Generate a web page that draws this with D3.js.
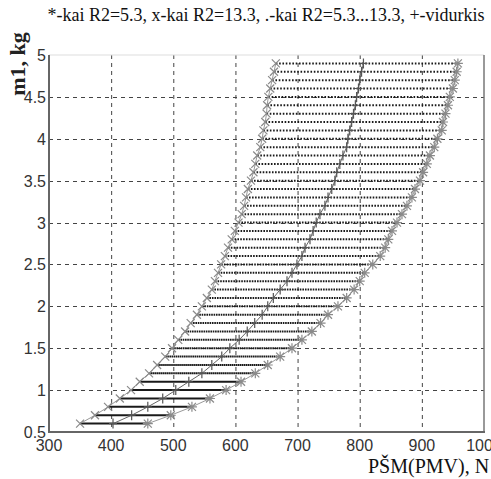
<!DOCTYPE html>
<html><head><meta charset="utf-8">
<script src="https://cdn.jsdelivr.net/npm/d3@7"></script>
<style>body{margin:0;background:#fff}svg{display:block}</style>
</head><body>
<svg id="c" width="491" height="479"></svg>
<script>
const m1 = [0.6,0.7,0.8,0.9,1.0,1.1,1.2,1.3,1.4,1.5,1.6,1.7,1.8,1.9,2.0,2.1,2.2,2.3,2.4,2.5,2.6,2.7,2.8,2.9,3.0,3.1,3.2,3.3,3.4,3.5,3.6,3.7,3.8,3.9,4.0,4.1,4.2,4.3,4.4,4.5,4.6,4.7,4.8,4.9];
const fR13 = [350,374,395,414,432,446,461,474,487,498,508,519,528,538,546,554,562,567,572,577,583,588,594,599,605,610,614,617,620,625,629,632,635,640,643,645,648,650,651,653,656,659,662,665];
const fR5 = [459,496,530,559,585,609,632,652,672,691,707,723,737,749,765,779,791,800,808,821,833,841,846,852,860,868,876,884,889,897,902,908,913,920,925,932,934,938,942,945,950,953,956,958];
const fMean = [403,433,459,483,504,525,546,562,578,591,606,619,631,643,652,661,672,683,691,699,707,712,720,725,730,736,744,749,755,760,763,768,773,779,781,784,787,790,793,795,798,800,803,806];
const xTicks = [300,400,500,600,700,800,900,1000];
const yTicks = [0.5,1,1.5,2,2.5,3,3.5,4,4.5,5];
const xTickLabels = ["300","400","500","600","700","800","900","1000"];
const yTickLabels = ["0.5","1","1.5","2","2.5","3","3.5","4","4.5","5"];
const title = "*-kai R2=5.3, x-kai R2=13.3, .-kai R2=5.3...13.3, +-vidurkis";
const xLabel = "PŠM(PMV), N";
const yLabel = "m1, kg";

const svg = d3.select("#c");
const L=49, R=484, T=55, B=432;
const x = d3.scaleLinear().domain([300,1000]).range([L,R]);
const y = d3.scaleLinear().domain([0.5,5]).range([B,T]);

// grid
const grid = svg.append("g").attr("stroke","#444").attr("stroke-width",1).attr("stroke-dasharray","4,4");
grid.selectAll("line.v").data(xTicks.slice(1,-1)).join("line")
  .attr("x1",d=>x(d)+0.5).attr("x2",d=>x(d)+0.5).attr("y1",T).attr("y2",B);
grid.selectAll("line.h").data(yTicks.slice(1,-1)).join("line")
  .attr("y1",d=>Math.round(y(d))+0.5).attr("y2",d=>Math.round(y(d))+0.5).attr("x1",L).attr("x2",R);

const data = m1.map((m,i)=>({m, a:fR13[i], b:fR5[i], c:fMean[i]}));

// dotted rows
svg.append("g").selectAll("line").data(data).join("line")
  .attr("x1",d=>x(d.a)).attr("x2",d=>x(d.b))
  .attr("y1",d=>y(d.m)).attr("y2",d=>y(d.m))
  .attr("stroke","#1a1a1a").attr("stroke-width",2)
  .attr("stroke-dasharray",d=>{const w=x(d.b)-x(d.a); const g=Math.max(0,w/55-1.6); return g<0.3?null:`1.6,${g}`;});

// connecting curves
const lineA = d3.line().x(d=>x(d.a)).y(d=>y(d.m));
const lineB = d3.line().x(d=>x(d.b)).y(d=>y(d.m));
const lineC = d3.line().x(d=>x(d.c)).y(d=>y(d.m));
svg.append("path").attr("d",lineA(data)).attr("fill","none").attr("stroke","#999").attr("stroke-width",1);
svg.append("path").attr("d",lineB(data)).attr("fill","none").attr("stroke","#999").attr("stroke-width",1);
svg.append("path").attr("d",lineC(data)).attr("fill","none").attr("stroke","#666").attr("stroke-width",1);

// x markers (R2=13.3)
const s=4;
svg.append("g").attr("stroke","#8a8a8a").attr("stroke-width",1.2).selectAll("path").data(data).join("path")
  .attr("d",d=>{const cx=x(d.a),cy=y(d.m);return `M${cx-s},${cy-s}L${cx+s},${cy+s}M${cx-s},${cy+s}L${cx+s},${cy-s}`;});
// * markers (R2=5.3)
svg.append("g").attr("stroke","#8a8a8a").attr("stroke-width",1.2).selectAll("path").data(data).join("path")
  .attr("d",d=>{const cx=x(d.b),cy=y(d.m);return `M${cx-s},${cy-s}L${cx+s},${cy+s}M${cx-s},${cy+s}L${cx+s},${cy-s}M${cx-s-1},${cy}L${cx+s+1},${cy}M${cx},${cy-s-1}L${cx},${cy+s+1}`;});
// + markers (mean)
svg.append("g").attr("stroke","#555").attr("stroke-width",1.2).selectAll("path").data(data).join("path")
  .attr("d",d=>{const cx=x(d.c),cy=y(d.m);return `M${cx-4},${cy}L${cx+4},${cy}M${cx},${cy-5}L${cx},${cy+5}`;});

// axes box
svg.append("line").attr("x1",L).attr("x2",R).attr("y1",T).attr("y2",T).attr("stroke","#ddd").attr("stroke-width",1);
svg.append("line").attr("x1",R).attr("x2",R).attr("y1",T).attr("y2",B+1).attr("stroke","#777").attr("stroke-width",1.5);
svg.append("line").attr("x1",L).attr("x2",L).attr("y1",T).attr("y2",B+1).attr("stroke","#666").attr("stroke-width",2);
svg.append("line").attr("x1",L-1).attr("x2",R+1).attr("y1",B).attr("y2",B).attr("stroke","#666").attr("stroke-width",2);

// tick labels
svg.append("g").selectAll("text").data(xTicks).join("text")
  .attr("x",d=>x(d)).attr("y",451).attr("text-anchor","middle")
  .attr("font-family","Liberation Sans, Arial, sans-serif").attr("font-size",16).attr("fill","#333")
  .text((d,i)=>xTickLabels[i]);
svg.append("g").selectAll("text").data(yTicks).join("text")
  .attr("x",46).attr("y",d=>y(d)+6).attr("text-anchor","end")
  .attr("font-family","Liberation Sans, Arial, sans-serif").attr("font-size",16).attr("fill","#333")
  .text((d,i)=>yTickLabels[i]);

// title & labels
svg.append("text").attr("x",266).attr("y",21).attr("text-anchor","middle")
  .attr("font-family","Liberation Serif, Times New Roman, serif").attr("font-size",18).attr("fill","#111")
  .text(title);
svg.append("text").attr("x",368).attr("y",473)
  .attr("font-family","Liberation Serif, Times New Roman, serif").attr("font-size",20).attr("fill","#111")
  .text(xLabel);
svg.append("text").attr("transform","translate(25,64) rotate(-90)").attr("text-anchor","middle")
  .attr("font-family","Liberation Serif, Times New Roman, serif").attr("font-size",22).attr("font-weight","bold").attr("fill","#222")
  .text(yLabel);
</script>
</body></html>
